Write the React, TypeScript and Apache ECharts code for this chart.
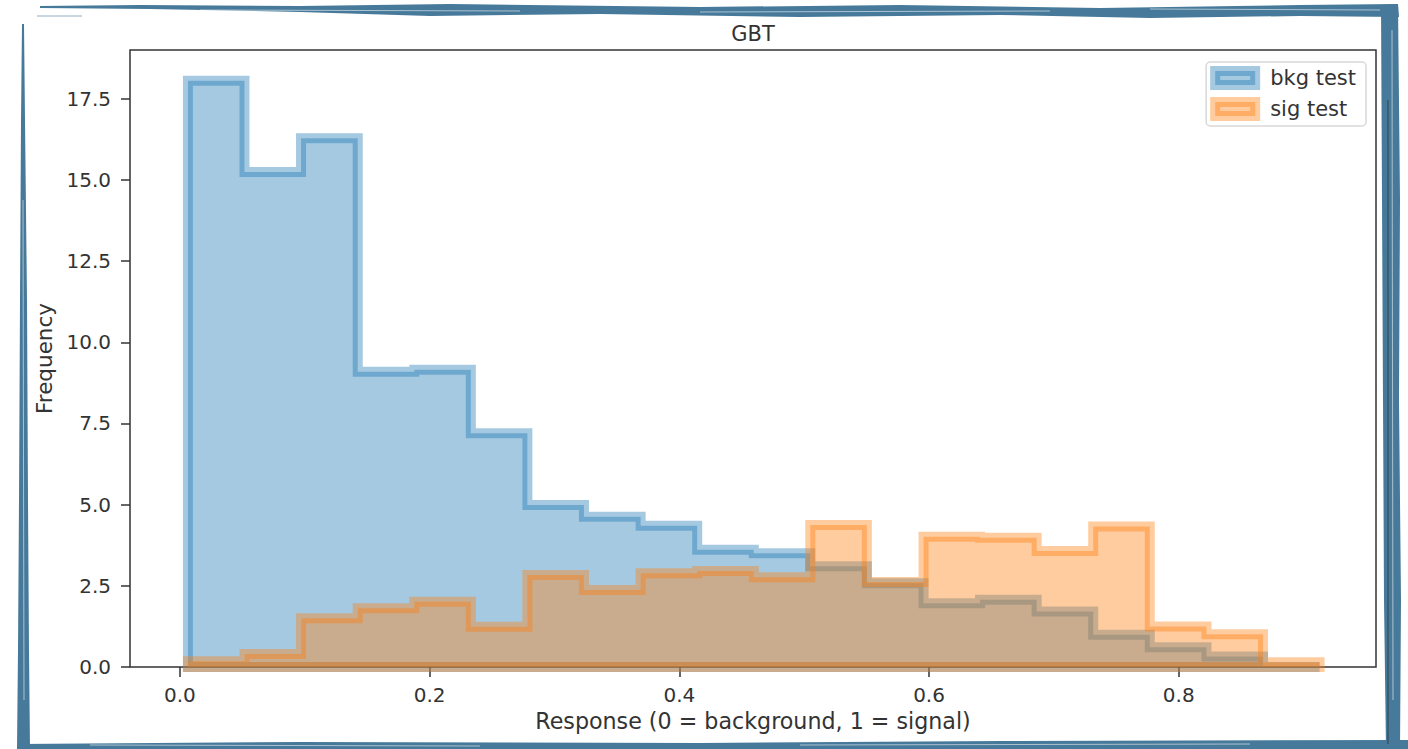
import React, { useEffect, useRef } from "react";
import * as echarts from "echarts";

// Histogram bin edges (shared by both histograms)
const binEdges = [
  0.0064, 0.0517, 0.097, 0.1424, 0.1877, 0.233, 0.2783, 0.3236, 0.369, 0.4143,
  0.4596, 0.5049, 0.5502, 0.5956, 0.6409, 0.6862, 0.7315, 0.7768, 0.8222,
  0.8675, 0.9128,
];

// Frequency per bin
const bkgTest = [
  18.05, 15.24, 16.28, 9.09, 9.15, 7.2, 4.99, 4.63, 4.35, 3.61, 3.5, 3.1, 2.58,
  1.96, 2.07, 1.71, 0.99, 0.61, 0.32, 0.0,
];
const sigTest = [
  0.18, 0.4, 1.5, 1.81, 2.01, 1.24, 2.83, 2.37, 2.89, 2.96, 2.76, 4.37, 2.62,
  4.01, 3.98, 3.57, 4.33, 1.25, 1.01, 0.15,
];

const seriesNames = ["bkg test", "sig test"];
const xTicks = [0.0, 0.2, 0.4, 0.6, 0.8];
const yTicks = [0.0, 2.5, 5.0, 7.5, 10.0, 12.5, 15.0, 17.5];

const X_MIN = -0.04;
const X_MAX = 0.958;
const Y_MAX = 19.0;

const FONT = "DejaVu Sans";
const TEXT = "#333333";
const BLUE = "rgba(31,119,180,0.4)";
const ORANGE = "rgba(255,127,14,0.4)";
const FRAME = "#477a9a";

function makeRender(values: number[], color: string) {
  return (params: any, api: any) => {
    if (params.dataIndex !== 0) return null;
    const pts: number[][] = [];
    pts.push(api.coord([binEdges[0], 0]));
    values.forEach((v, i) => {
      pts.push(api.coord([binEdges[i], v]));
      pts.push(api.coord([binEdges[i + 1], v]));
    });
    pts.push(api.coord([binEdges[binEdges.length - 1], 0]));
    return {
      type: "polygon",
      shape: { points: pts },
      style: {
        fill: color,
        stroke: color,
        lineWidth: 10,
        lineJoin: "miter",
      },
    };
  };
}

function frameGraphics() {
  const streak = "rgba(255,255,255,0.55)";
  return [
    // top band
    {
      type: "polygon",
      z: 100,
      shape: {
        points: [
          [40, 6], [140, 5], [300, 6], [450, 4], [700, 7], [900, 5], [1100, 8],
          [1300, 5], [1398, 4], [1399, 17], [1300, 16], [1150, 18], [1000, 15],
          [800, 17], [600, 14], [430, 16], [300, 12], [150, 9], [40, 8],
        ],
      },
      style: { fill: FRAME },
    },
    { type: "line", z: 101, shape: { x1: 200, y1: 10, x2: 520, y2: 11 }, style: { stroke: streak, lineWidth: 1 } },
    { type: "line", z: 101, shape: { x1: 700, y1: 12, x2: 1050, y2: 11 }, style: { stroke: streak, lineWidth: 1 } },
    { type: "line", z: 101, shape: { x1: 1150, y1: 9, x2: 1380, y2: 10 }, style: { stroke: streak, lineWidth: 1 } },
    { type: "line", z: 100, shape: { x1: 37, y1: 16, x2: 82, y2: 16 }, style: { stroke: FRAME, lineWidth: 1, opacity: 0.6 } },
    // left band
    {
      type: "polygon",
      z: 100,
      shape: {
        points: [
          [22, 24], [24, 24], [25, 120], [27, 300], [28, 500], [29, 650], [30, 749],
          [17, 749], [18, 650], [19, 500], [20, 300], [21, 120],
        ],
      },
      style: { fill: FRAME },
    },
    { type: "line", z: 101, shape: { x1: 23, y1: 200, x2: 24, y2: 700 }, style: { stroke: streak, lineWidth: 1 } },
    // bottom band
    {
      type: "polygon",
      z: 100,
      shape: {
        points: [
          [18, 744], [300, 742], [700, 743], [1000, 741], [1400, 740], [1408, 740],
          [1408, 749], [18, 749],
        ],
      },
      style: { fill: FRAME },
    },
    { type: "line", z: 101, shape: { x1: 90, y1: 745, x2: 480, y2: 746 }, style: { stroke: streak, lineWidth: 1 } },
    { type: "line", z: 101, shape: { x1: 800, y1: 745, x2: 1250, y2: 744 }, style: { stroke: streak, lineWidth: 1 } },
    // right band
    {
      type: "polygon",
      z: 100,
      shape: {
        points: [
          [1381, 5], [1398, 4], [1400, 200], [1399, 400], [1401, 600], [1400, 749],
          [1386, 749], [1384, 600], [1383, 400], [1382, 200],
        ],
      },
      style: { fill: FRAME },
    },
    { type: "line", z: 101, shape: { x1: 1392, y1: 30, x2: 1393, y2: 700 }, style: { stroke: streak, lineWidth: 1 } },
    { type: "line", z: 101, shape: { x1: 1388, y1: 100, x2: 1388, y2: 744 }, style: { stroke: "rgba(30,30,30,0.6)", lineWidth: 1 } },
  ];
}

export default function App() {
  const ref = useRef<HTMLDivElement>(null);

  useEffect(() => {
    if (!ref.current) return;
    const chart = echarts.init(ref.current, null, { renderer: "svg" });
    const option: any = {
      animation: false,
      backgroundColor: "#ffffff",
      title: {
        text: "GBT",
        left: 748,
        top: 18,
        textAlign: "center",
        textStyle: {
          fontFamily: FONT,
          fontSize: 21,
          fontWeight: "normal",
          color: TEXT,
        },
      },
      legend: {
        orient: "vertical",
        right: 42,
        top: 62,
        selectedMode: false,
        icon: "rect",
        itemWidth: 40,
        itemHeight: 14,
        itemGap: 7,
        padding: [4, 10, 5, 4],
        backgroundColor: "#ffffff",
        borderColor: "#d8d8d8",
        borderWidth: 1.5,
        borderRadius: 4,
        textStyle: {
          fontFamily: FONT,
          fontSize: 21,
          color: TEXT,
          padding: [0, 0, 0, 10],
        },
        data: [
          {
            name: seriesNames[0],
            itemStyle: { color: BLUE, borderColor: BLUE, borderWidth: 10 },
          },
          {
            name: seriesNames[1],
            itemStyle: { color: ORANGE, borderColor: ORANGE, borderWidth: 10 },
          },
        ],
      },
      grid: {
        left: 130,
        top: 50,
        right: 32,
        bottom: 82,
        show: true,
        borderColor: "#333333",
        borderWidth: 1.5,
        backgroundColor: "transparent",
      },
      xAxis: {
        type: "value",
        min: X_MIN,
        max: X_MAX,
        name: "Response (0 = background, 1 = signal)",
        nameLocation: "middle",
        nameGap: 43,
        nameTextStyle: { fontFamily: FONT, fontSize: 22.2, color: TEXT },
        axisLine: { show: false, onZero: false },
        splitLine: { show: false },
        axisTick: {
          show: true,
          length: 10,
          customValues: xTicks,
          lineStyle: { color: "#333333", width: 1.5 },
        },
        axisLabel: {
          customValues: xTicks,
          formatter: (v: number) => v.toFixed(1),
          fontFamily: FONT,
          fontSize: 20,
          color: TEXT,
          margin: 18,
        },
      },
      yAxis: {
        type: "value",
        min: 0,
        max: Y_MAX,
        name: "Frequency",
        nameLocation: "middle",
        nameGap: 63,
        nameRotate: 90,
        nameTextStyle: { fontFamily: FONT, fontSize: 21.5, color: TEXT },
        axisLine: { show: false, onZero: false },
        splitLine: { show: false },
        axisTick: {
          show: true,
          length: 9,
          customValues: yTicks,
          lineStyle: { color: "#333333", width: 1.5 },
        },
        axisLabel: {
          customValues: yTicks,
          formatter: (v: number) => v.toFixed(1),
          fontFamily: FONT,
          fontSize: 20,
          color: TEXT,
          margin: 19,
        },
      },
      graphic: frameGraphics(),
      series: [
        {
          name: seriesNames[0],
          type: "custom",
          itemStyle: { color: BLUE },
          renderItem: makeRender(bkgTest, BLUE),
          encode: { x: 0, y: 1 },
          data: [[binEdges[0], 0]],
          z: 2,
        },
        {
          name: seriesNames[1],
          type: "custom",
          itemStyle: { color: ORANGE },
          renderItem: makeRender(sigTest, ORANGE),
          encode: { x: 0, y: 1 },
          data: [[binEdges[0], 0]],
          z: 3,
        },
      ],
    };
    chart.setOption(option);
    return () => {
      chart.dispose();
    };
  }, []);

  return (
    <div
      ref={ref}
      style={{
        position: "fixed",
        left: 0,
        top: 0,
        width: 1408,
        height: 749,
        background: "#ffffff",
      }}
    />
  );
}
